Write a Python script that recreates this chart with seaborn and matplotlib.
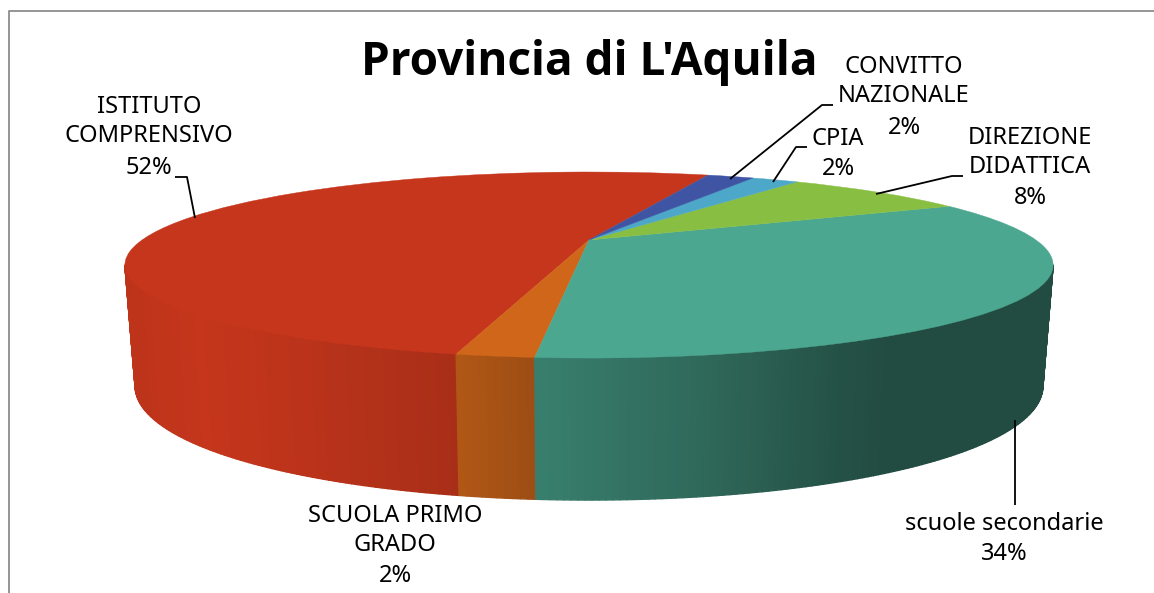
import numpy as np
import matplotlib
matplotlib.use("Agg")
import matplotlib.pyplot as plt
import matplotlib.transforms as mtransforms
from matplotlib.collections import PolyCollection
import seaborn as sns

categories = ["ISTITUTO\nCOMPRENSIVO", "SCUOLA PRIMO\nGRADO", "scuole secondarie",
              "DIREZIONE\nDIDATTICA", "CPIA", "CONVITTO\nNAZIONALE"]
shares = [51.9, 2.1, 33.6, 8.2, 2.1, 2.1]
slice_colors = ["#C5361C", "#CF661A", "#4BA790", "#88BF42", "#4CA7C8", "#3F55A4"]
title = "Provincia di L'Aquila"

W, H = 1154, 593
CX, CY, A, B, K = 589.0, 240.0, 447.0, 86.3, 0.269
START = 70.5


def project(u, v):
    w = 1 + K * v
    return CX + A * u / w, CY - B * v / w


class DiskToScreen(mtransforms.Transform):
    input_dims = output_dims = 2
    is_separable = False
    has_inverse = False

    def transform_non_affine(self, values):
        values = np.asarray(values)
        x, y = project(values[:, 0], values[:, 1])
        return np.column_stack([x, y])


sns.set_theme(style="white")
plt.rcParams["font.family"] = ["Noto Sans", "DejaVu Sans"]
fig = plt.figure(figsize=(W / 100, H / 100), dpi=100, facecolor="white")
ax = fig.add_axes([0, 0, 1, 1])
palette = sns.color_palette(slice_colors)

wedges, _ = ax.pie(shares, colors=palette, startangle=START, counterclock=True, radius=1)
ax.set_aspect("auto")
ax.set_xlim(0, W)
ax.set_ylim(H, 0)
ax.axis("off")

shade_x = [130, 200, 300, 450, 535, 700, 850, 900, 1060]
shade_f = [0.96, 1.0, 0.95, 0.86, 0.76, 0.63, 0.48, 0.45, 0.45]
limit = np.degrees(np.arcsin(K))
for wedge, col in zip(wedges, palette):
    t1 = max(wedge.theta1, 180 + limit)
    t2 = min(wedge.theta2, 360 - limit)
    if t2 <= t1:
        continue
    th = np.radians(np.linspace(t1, t2, max(2, int((t2 - t1) * 1.5))))
    u, v = np.cos(th), np.sin(th)
    xt, yt = project(u, v)
    xb = CX + (xt - CX) * 0.978
    yb = yt + 113 + 29 * (-v)
    polys, cols = [], []
    for i in range(len(th) - 1):
        polys.append([(xt[i], yt[i]), (xt[i + 1], yt[i + 1]), (xb[i + 1], yb[i + 1]), (xb[i], yb[i])])
        f = np.interp((xt[i] + xt[i + 1]) / 2, shade_x, shade_f)
        cols.append(tuple(np.array(col) * f))
    ax.add_collection(PolyCollection(polys, facecolors=cols, edgecolors=cols, linewidths=1.0, zorder=1))

tr = DiskToScreen() + ax.transData
for wedge, col in zip(wedges, palette):
    wedge.set_transform(tr)
    wedge.set_clip_on(False)
    wedge.set_zorder(2)
    wedge.set_edgecolor(col)
    wedge.set_linewidth(0.3)

# chart frame
ax.plot([8.5, 8.5, W], [H, 10.5, 10.5], color="#8c8c8c", lw=1.3, zorder=0)

ax.text(589, 62, title, ha="center", va="center", fontsize=33, fontweight="bold",
        family="Open Sans", color="black")

STEP = 30.5
label_pos = [(149, 137), (395, 546), (1004, 539), (1030, 168), (838, 154), (904, 97)]
for name, share, (x, y) in zip(categories, shares, label_pos):
    n = name.count("\n") + 1
    ax.text(x, y - STEP / 2, name, ha="center", va="center", fontsize=17,
            color="black", linespacing=1.3)
    ax.text(x, y + STEP * n / 2, f"{share:.0f}%", ha="center", va="center", fontsize=17,
            color="black")

leaders = [[(175, 177), (187, 177), (195, 218)],
           [(1015, 420), (1015, 505)],
           [(876, 194), (952, 176), (963, 176)],
           [(773, 182), (796, 147), (807, 147)],
           [(730, 179), (822, 105), (833, 105)]]
for pts in leaders:
    xs, ys = zip(*pts)
    ax.plot(xs, ys, color="black", lw=1.3, zorder=3, solid_capstyle="butt")

fig.savefig("out.png", dpi=100, facecolor="white")
